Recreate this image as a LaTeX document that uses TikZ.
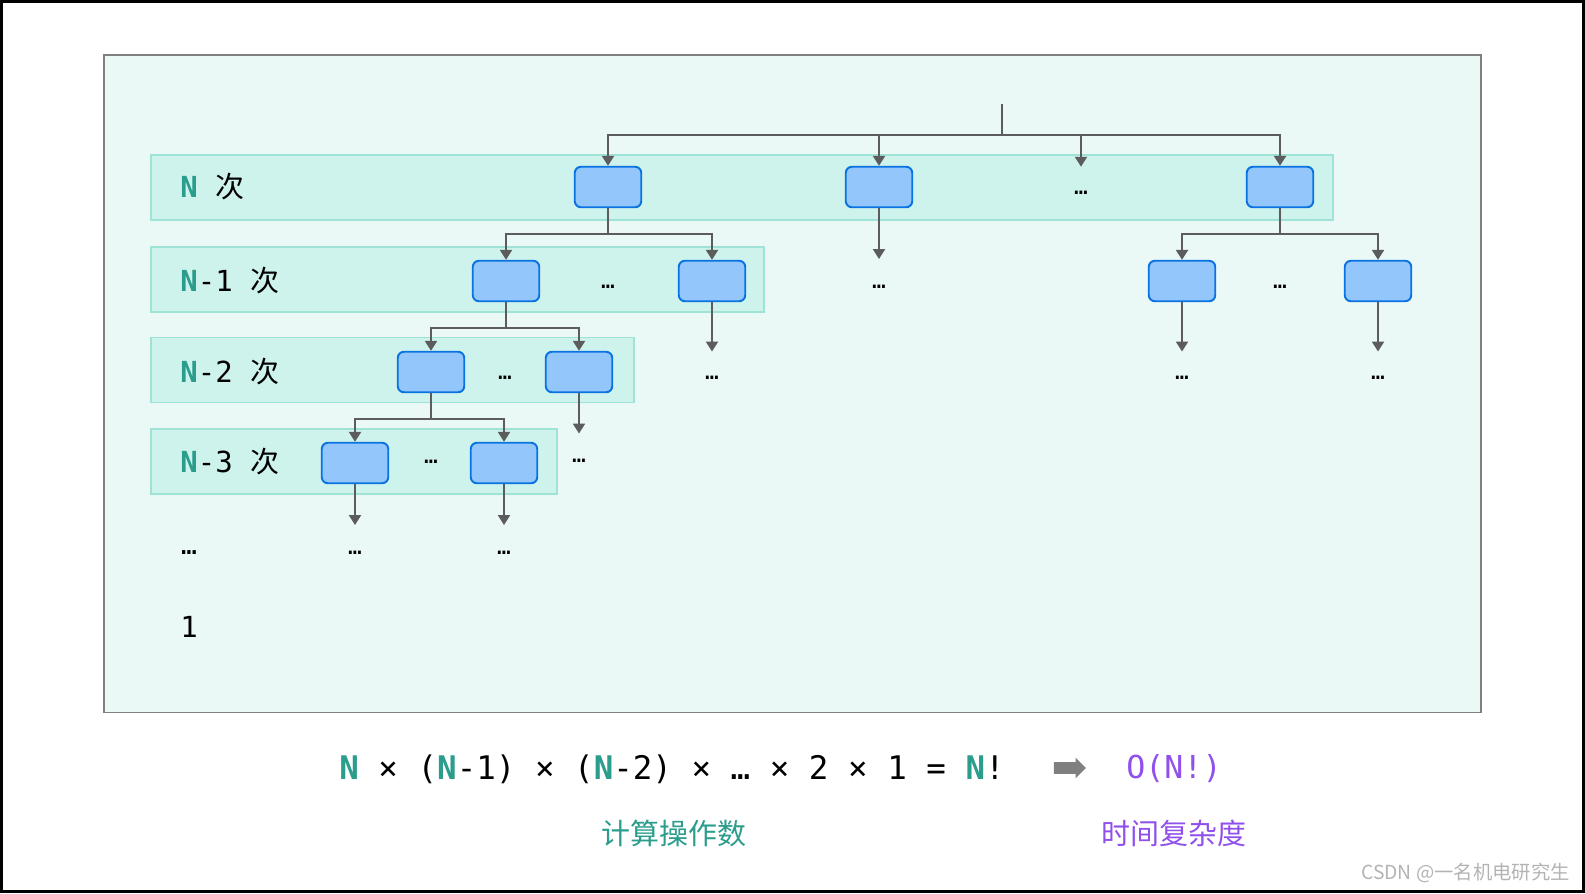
\documentclass[tikz,border=0pt]{standalone}
\usepackage{fontspec}
\setmonofont{DejaVu Sans Mono}
\newfontfamily\cjk{Noto Sans CJK SC}
\usetikzlibrary{arrows.meta, shapes.arrows}
\definecolor{inkteal}{HTML}{2A9D8C}
\definecolor{inkviolet}{HTML}{9050EC}
\definecolor{inkbox}{HTML}{93C6FA}
\definecolor{inkedge}{HTML}{0A73E3}
\definecolor{inkband}{HTML}{CEF2EC}
\definecolor{inkbandedge}{HTML}{9FE3D7}
\definecolor{inkpanel}{HTML}{EAF8F6}
\definecolor{inkpaneledge}{HTML}{808080}
\definecolor{inklink}{HTML}{5C5C5C}
\definecolor{inkarrow}{HTML}{7F7F7F}
\definecolor{inkmark}{HTML}{B3B3B3}
\newcommand{\tealN}{\textbf{\textcolor{inkteal}{N}}}
\newcommand{\opbox}[3]{%
  \node[draw=inkedge, line width=1.1pt, rounded corners=3.5pt, fill=inkbox,
        minimum width=1.33cm, minimum height=0.81cm] (#1) at (#2,#3) {};}
\newcommand{\more}[3]{%
  \node[font=\ttfamily\fontsize{13}{13}\selectfont, inner sep=0pt] (#1) at (#2,#3) {…};}

\begin{document}
\begin{tikzpicture}[x=0.02cm, y=-0.02cm, font=\ttfamily\fontsize{16.5}{20}\selectfont,
    wire/.style={draw=inklink, line width=1.1pt},
    feed/.style={wire, -{Triangle[length=5.6pt, width=6.8pt]}},
    band/.style={draw=inkbandedge, fill=inkband, line width=1.1pt}]
  \useasboundingbox (0,0) rectangle (1585,893);
  \draw[line width=1.7pt] (1.5,1.5) rectangle (1583.5,891.5);
  \draw[draw=inkpaneledge, fill=inkpanel, line width=1.1pt] (104,55) rectangle (1481,712.5);
  % level bands
  \draw[band] (151,155) rectangle (1333,220);
  \draw[band] (151,247) rectangle (764,312);
  \draw[band] (151,337.5) rectangle (634,402.5);
  \draw[band] (151,429) rectangle (557,494);
  % level labels
  \node[anchor=base west, inner sep=0pt] (lv0) at (180,197) {\tealN{} {\cjk 次}};
  \node[anchor=base west, inner sep=0pt] (lv1) at (180,291) {\tealN-1 {\cjk 次}};
  \node[anchor=base west, inner sep=0pt] (lv2) at (180,382) {\tealN-2 {\cjk 次}};
  \node[anchor=base west, inner sep=0pt] (lv3) at (180,472) {\tealN-3 {\cjk 次}};
  \node[font=\ttfamily\fontsize{15}{15}\selectfont, inner sep=0pt] (lvdots) at (189,553) {…};
  \node[anchor=base] (lvlast) at (189,637) {1};
  % boxes
  \opbox{a1}{608}{187}
  \opbox{a2}{879}{187}
  \opbox{a4}{1280}{187}
  \opbox{b1}{506}{281}
  \opbox{b2}{712}{281}
  \opbox{r1}{1182}{281}
  \opbox{r2}{1378}{281}
  \opbox{c1}{431}{372}
  \opbox{c2}{579}{372}
  \opbox{d1}{355}{463}
  \opbox{d2}{504}{463}
  % dots
  \more{g0}{1081}{193}
  \more{g1}{879}{287}
  \more{g2}{608}{287}
  \more{g3}{1280}{287}
  \more{g4}{712}{378}
  \more{g5}{1182}{378}
  \more{g6}{1378}{378}
  \more{g7}{505}{378}
  \more{g8}{579}{461}
  \more{g9}{431}{462}
  \more{g10}{355}{553}
  \more{g11}{504}{553}
  % loose ends
  \coordinate (root) at (1002,104);
  \coordinate (hub) at (1002,135);
  \coordinate (e0) at (1081,166.7);
  \coordinate (e1) at (879,259);
  \coordinate (e2) at (712,351.5);
  \coordinate (e3) at (1182,351.5);
  \coordinate (e4) at (1378,351.5);
  \coordinate (e5) at (579,433.5);
  \coordinate (e6) at (355,525);
  \coordinate (e7) at (504,525);
  % connectors
  \draw[wire] (root) -- (hub);
  \draw[feed] (hub) -| (a1.north);
  \draw[feed] (hub) -| (a2.north);
  \draw[feed] (hub) -| (e0);
  \draw[feed] (hub) -| (a4.north);
  \draw[feed] (a2.south) -- (e1);
  \draw[feed] (a1.south) -- ++(0,26) -| (b1.north);
  \draw[feed] (a1.south) -- ++(0,26) -| (b2.north);
  \draw[feed] (a4.south) -- ++(0,26) -| (r1.north);
  \draw[feed] (a4.south) -- ++(0,26) -| (r2.north);
  \draw[feed] (b2.south) -- (e2);
  \draw[feed] (r1.south) -- (e3);
  \draw[feed] (r2.south) -- (e4);
  \draw[feed] (b1.south) -- ++(0,26) -| (c1.north);
  \draw[feed] (b1.south) -- ++(0,26) -| (c2.north);
  \draw[feed] (c2.south) -- (e5);
  \draw[feed] (c1.south) -- ++(0,26) -| (d1.north);
  \draw[feed] (c1.south) -- ++(0,26) -| (d2.north);
  \draw[feed] (d1.south) -- (e6);
  \draw[feed] (d2.south) -- (e7);
  % formula
  \node[anchor=base west, inner sep=0pt, font=\ttfamily\fontsize{18.5}{20}\selectfont] (ops) at (339,779)
    {\tealN{} × (\tealN-1) × (\tealN-2) × … × 2 × 1 = \tealN!};
  \node[single arrow, fill=inkarrow, inner xsep=0pt, inner ysep=0.11cm,
        single arrow head extend=0.09cm, minimum height=0.64cm] (imp) at (1067,768) {};
  \node[anchor=base west, inner sep=0pt, text=inkviolet, font=\ttfamily\fontsize{18}{20}\selectfont] (big) at (1126,778) {O(N!)};
  \node[text=inkteal, font=\cjk\fontsize{16.5}{20}\selectfont] (opsname) at (674,833) {计算操作数};
  \node[text=inkviolet, font=\cjk\fontsize{16.5}{20}\selectfont] (bigname) at (1174,833) {时间复杂度};
  \node[anchor=east, inner sep=0pt, text=inkmark, font=\cjk\fontsize{11}{13}\selectfont] (mark) at (1570,873) {CSDN @一名机电研究生};
\end{tikzpicture}
\end{document}
